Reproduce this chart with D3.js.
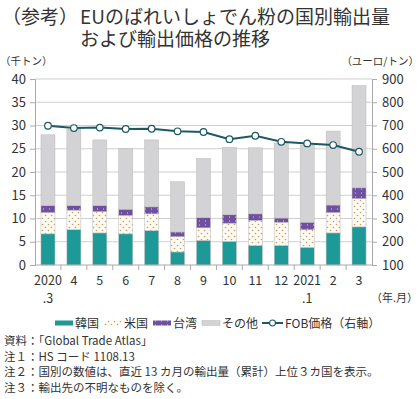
<!DOCTYPE html>
<html>
<head>
  <meta charset="utf-8">
  <style>
    body { margin: 0; background: #fff; }
    svg text { font-family: "Noto Sans CJK JP", "Noto Sans", sans-serif; fill: #333; }
  </style>
  <script src="https://d3js.org/d3.v7.min.js"></script>
</head>
<body>
  <div id="chart"></div>

  <script>
    // months on the x axis (two-line labels)
    var months = ["2020\n.3", "4", "5", "6", "7", "8", "9", "10", "11", "12", "2021\n.1", "2", "3"];
    // export volume by destination (thousand tonnes)
    var korea  = [6.7, 7.6, 6.9, 6.7, 7.4, 2.8, 5.3, 5.1, 4.2, 4.2, 3.8, 6.9, 8.2];
    var usa    = [4.6, 4.2, 4.6, 4.0, 3.6, 3.3, 2.7, 3.9, 5.4, 5.0, 3.8, 4.4, 6.1];
    var taiwan = [1.5, 1.0, 1.3, 1.3, 1.5, 1.0, 2.2, 1.8, 1.4, 0.9, 1.6, 1.6, 2.3];
    var others = [15.2, 16.4, 14.1, 13.1, 14.4, 10.8, 12.7, 14.5, 14.2, 16.1, 16.6, 15.9, 22.0];
    // FOB price (euro per tonne, right axis)
    var fobPrice = [699, 689, 691, 685, 686, 675, 672, 641, 656, 630, 623, 616, 587];
    var seriesNames = ["韓国", "米国", "台湾", "その他"];
    var leftTicks = [0, 5, 10, 15, 20, 25, 30, 35, 40];
    var rightTicks = [100, 200, 300, 400, 500, 600, 700, 800, 900];

    var width = 420, height = 399;
    var margin = { top: 79, right: 48, bottom: 134, left: 35 };
    var plotW = width - margin.left - margin.right;
    var plotH = height - margin.top - margin.bottom;

    var svg = d3.select("#chart").append("svg")
      .attr("width", width)
      .attr("height", height);

    // fill patterns
    var defs = svg.append("defs");
    var dots = defs.append("pattern").attr("id", "usDots")
      .attr("patternUnits", "userSpaceOnUse").attr("width", 6).attr("height", 6);
    dots.append("rect").attr("width", 6).attr("height", 6).attr("fill", "#fdfbf4");
    dots.append("circle").attr("cx", 1.5).attr("cy", 1.5).attr("r", 0.8).attr("fill", "#c99a5c");
    dots.append("circle").attr("cx", 4.5).attr("cy", 4.5).attr("r", 0.8).attr("fill", "#c99a5c");

    var purple = defs.append("pattern").attr("id", "twDots")
      .attr("patternUnits", "userSpaceOnUse").attr("width", 6).attr("height", 4);
    purple.append("rect").attr("width", 6).attr("height", 4).attr("fill", "#6f4fa0");
    purple.append("rect").attr("x", 2).attr("y", 1.5).attr("width", 1).attr("height", 1).attr("fill", "#d8cdea");

    var fills = ["#1d9a97", "url(#usDots)", "url(#twDots)", "#d3d3d5"];

    // title
    svg.append("text").attr("x", 2).attr("y", 24)
      .style("font-size", "19px").text("（参考）");
    svg.append("text").attr("x", 80).attr("y", 24)
      .style("font-size", "19px").text("EUのばれいしょでん粉の国別輸出量");
    svg.append("text").attr("x", 80).attr("y", 46)
      .style("font-size", "19px").text("および輸出価格の推移");

    // unit labels
    svg.append("text").attr("x", 0).attr("y", 65)
      .style("font-size", "10.5px").text("（千トン）");
    svg.append("text").attr("x", 419).attr("y", 65).attr("text-anchor", "end")
      .style("font-size", "10.5px").text("（ユーロ/トン）");

    var g = svg.append("g")
      .attr("transform", "translate(" + margin.left + "," + margin.top + ")");

    var x = d3.scaleBand().domain(months).range([0, plotW]).paddingInner(0.46).paddingOuter(0.23);
    var xStep = d3.scaleBand().domain(months).range([0, plotW]);
    var yL = d3.scaleLinear().domain([0, 40]).range([plotH, 0]);
    var yR = d3.scaleLinear().domain([100, 900]).range([plotH, 0]);

    // gridlines
    g.append("g").selectAll("line").data(leftTicks.slice(1)).enter().append("line")
      .attr("x1", 0).attr("x2", plotW)
      .attr("y1", function(d) { return yL(d); }).attr("y2", function(d) { return yL(d); })
      .attr("stroke", "#cfcfcf").attr("stroke-width", 1);

    // stacked bars
    var rows = months.map(function(m, i) {
      return { month: m, 0: korea[i], 1: usa[i], 2: taiwan[i], 3: others[i] };
    });
    var stack = d3.stack().keys([0, 1, 2, 3])(rows);

    g.append("g").selectAll("g").data(stack).enter().append("g")
      .attr("fill", function(d, i) { return fills[i]; })
      .selectAll("rect").data(function(d) { return d; }).enter().append("rect")
      .attr("x", function(d) { return x(d.data.month); })
      .attr("width", x.bandwidth())
      .attr("y", function(d) { return yL(d[1]); })
      .attr("height", function(d) { return yL(d[0]) - yL(d[1]); })
      .attr("stroke", "#b9b9b9").attr("stroke-width", 0.5);

    // left axis
    var leftAxis = g.append("g")
      .call(d3.axisLeft(yL).tickValues(leftTicks).tickSize(5).tickPadding(4));
    leftAxis.select(".domain").attr("stroke", "#aaa");
    leftAxis.selectAll(".tick line").attr("stroke", "#aaa");
    leftAxis.selectAll("text").style("font-size", "13px").attr("fill", "#333");

    // right axis
    var rightAxis = g.append("g")
      .attr("transform", "translate(" + plotW + ",0)")
      .call(d3.axisRight(yR).tickValues(rightTicks).tickSize(5).tickPadding(5));
    rightAxis.select(".domain").attr("stroke", "#aaa");
    rightAxis.selectAll(".tick line").attr("stroke", "#aaa");
    rightAxis.selectAll("text").style("font-size", "13px").attr("fill", "#333");

    // bottom axis with ticks between categories
    var bottom = g.append("g").attr("transform", "translate(0," + plotH + ")");
    bottom.append("line").attr("x1", 0).attr("x2", plotW).attr("stroke", "#aaa");
    bottom.selectAll("line.sep").data(months.slice(1)).enter().append("line")
      .attr("class", "sep")
      .attr("x1", function(d) { return xStep(d); }).attr("x2", function(d) { return xStep(d); })
      .attr("y1", 0).attr("y2", 5).attr("stroke", "#aaa");
    var xLabels = bottom.selectAll("text.xl").data(months).enter().append("text")
      .attr("class", "xl")
      .attr("text-anchor", "middle")
      .attr("x", function(d) { return xStep(d) + xStep.bandwidth() / 2; })
      .attr("y", 20)
      .style("font-size", "12.5px");
    xLabels.each(function(d) {
      var parts = d.split("\n");
      var t = d3.select(this);
      parts.forEach(function(p, i) {
        t.append("tspan").attr("x", t.attr("x")).attr("dy", i === 0 ? 0 : 18).text(p);
      });
    });
    svg.append("text").attr("x", 418).attr("y", 302).attr("text-anchor", "end")
      .style("font-size", "11px").text("（年.月）");

    // FOB price line
    var line = d3.line()
      .x(function(d, i) { return xStep(months[i]) + xStep.bandwidth() / 2; })
      .y(function(d) { return yR(d); });
    g.append("path").datum(fobPrice)
      .attr("d", line).attr("fill", "none")
      .attr("stroke", "#1e5864").attr("stroke-width", 2);
    g.append("g").selectAll("circle").data(fobPrice).enter().append("circle")
      .attr("cx", function(d, i) { return xStep(months[i]) + xStep.bandwidth() / 2; })
      .attr("cy", function(d) { return yR(d); })
      .attr("r", 3.3)
      .attr("fill", "#fff").attr("stroke", "#1e5864").attr("stroke-width", 1.2);

    // legend
    var legend = svg.append("g").attr("transform", "translate(55,323)");
    var legendX = [0, 49, 98, 147];
    seriesNames.forEach(function(name, i) {
      var item = legend.append("g").attr("transform", "translate(" + legendX[i] + ",0)");
      item.append("rect").attr("x", 0).attr("y", -2.5).attr("width", 18).attr("height", 5)
        .attr("fill", fills[i]).attr("stroke", i === 3 ? "#bbb" : "none").attr("stroke-width", 0.5);
      item.append("text").attr("x", 20).attr("y", 4.5).style("font-size", "12px").text(name);
    });
    var fobItem = legend.append("g").attr("transform", "translate(207,0)");
    fobItem.append("line").attr("x1", 0).attr("x2", 21).attr("stroke", "#1e5864").attr("stroke-width", 2);
    fobItem.append("circle").attr("cx", 10.5).attr("cy", 0).attr("r", 3)
      .attr("fill", "#fff").attr("stroke", "#1e5864").attr("stroke-width", 1.2);
    fobItem.append("text").attr("x", 23).attr("y", 4.5).style("font-size", "12px").text("FOB価格（右軸）");

    // notes
    var notes = [
      "資料：「Global Trade Atlas」",
      "注１：HS コード 1108.13",
      "注２：国別の数値は、直近 13 カ月の輸出量（累計）上位３カ国を表示。",
      "注３：輸出先の不明なものを除く。"
    ];
    svg.append("g").selectAll("text").data(notes).enter().append("text")
      .attr("x", 4).attr("y", function(d, i) { return 345 + i * 15.5; })
      .style("font-size", "11.5px").text(function(d) { return d; });
  </script>
</body>
</html>
